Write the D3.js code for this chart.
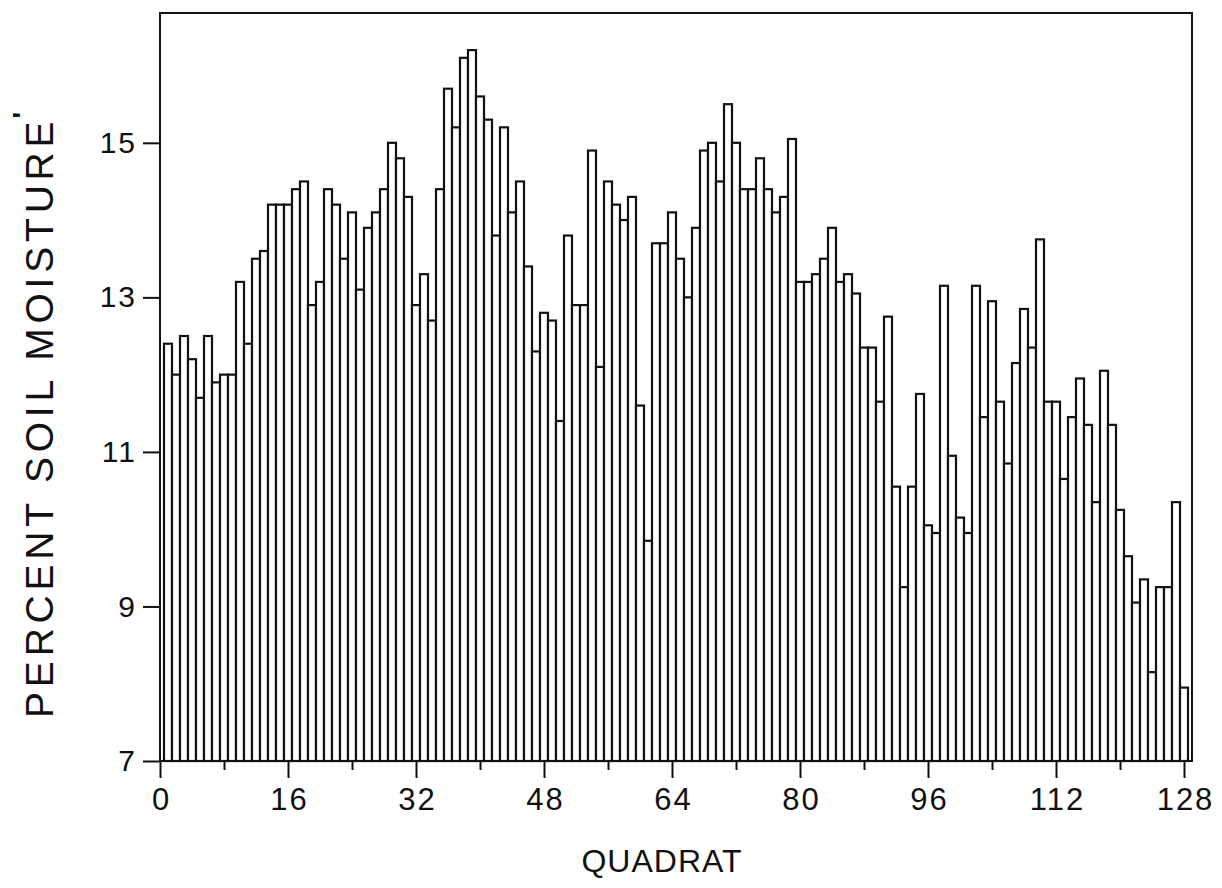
<!DOCTYPE html>
<html>
<head>
<meta charset="utf-8">
<script src="https://cdn.jsdelivr.net/npm/d3@7"></script>
<style>
  html, body { margin: 0; padding: 0; background: #fff; }
  svg { display: block; }
  text { font-family: "Liberation Sans", Arial, sans-serif; fill: #111; }
</style>
</head>
<body>
<svg id="chart" width="1222" height="888"></svg>
<script>
// Quadrat numbers along the transect
const quadrats = d3.range(1, 129);

// Percent soil moisture in each quadrat (1..128)
const moisture = [
  12.4, 12.0, 12.5, 12.2, 11.7, 12.5, 11.9, 12.0, 12.0, 13.2,
  12.4, 13.5, 13.6, 14.2, 14.2, 14.2, 14.4, 14.5, 12.9, 13.2,
  14.4, 14.2, 13.5, 14.1, 13.1, 13.9, 14.1, 14.4, 15.0, 14.8,
  14.3, 12.9, 13.3, 12.7, 14.4, 15.7, 15.2, 16.1, 16.2, 15.6,
  15.3, 13.8, 15.2, 14.1, 14.5, 13.4, 12.3, 12.8, 12.7, 11.4,
  13.8, 12.9, 12.9, 14.9, 12.1, 14.5, 14.2, 14.0, 14.3, 11.6,
  9.85, 13.7, 13.7, 14.1, 13.5, 13.0, 13.9, 14.9, 15.0, 14.5,
  15.5, 15.0, 14.4, 14.4, 14.8, 14.4, 14.1, 14.3, 15.05, 13.2,
  13.2, 13.3, 13.5, 13.9, 13.2, 13.3, 13.05, 12.35, 12.35, 11.65,
  12.75, 10.55, 9.25, 10.55, 11.75, 10.05, 9.95, 13.15, 10.95, 10.15,
  9.95, 13.15, 11.45, 12.95, 11.65, 10.85, 12.15, 12.85, 12.35, 13.75,
  11.65, 11.65, 10.65, 11.45, 11.95, 11.35, 10.35, 12.05, 11.35, 10.25,
  9.65, 9.05, 9.35, 8.15, 9.25, 9.25, 10.35, 7.95
];

// Axis ticks
const xMajorTicks = [0, 16, 32, 48, 64, 80, 96, 112, 128];
const xMinorTicks = [8, 24, 40, 56, 72, 88, 104, 120];
const yTicks = [7, 9, 11, 13, 15];

const xTitle = "QUADRAT";
const yTitle = "PERCENT SOIL MOISTURE";

const svg = d3.select("#chart");
const plot = { left: 160, right: 1192, top: 13, bottom: 761 };
const ink = "#111";

const x = d3.scaleLinear().domain([0, 129]).range([plot.left, plot.right]);
const y = d3.scaleLinear().domain([7, 16.68]).range([plot.bottom, plot.top]);

// Bars: one per quadrat, centred on the quadrat number, one unit wide
svg.append("g")
  .selectAll("rect")
  .data(quadrats)
  .join("rect")
  .attr("x", d => x(d - 0.5))
  .attr("width", d => x(d + 0.5) - x(d - 0.5))
  .attr("y", (d, i) => y(moisture[i]))
  .attr("height", (d, i) => y(7) - y(moisture[i]))
  .attr("fill", "#fff")
  .attr("stroke", ink)
  .attr("stroke-width", 2.2);

// Plot frame
svg.append("rect")
  .attr("x", plot.left).attr("y", plot.top)
  .attr("width", plot.right - plot.left).attr("height", plot.bottom - plot.top)
  .attr("fill", "none").attr("stroke", ink).attr("stroke-width", 2);

// X axis: major labelled ticks and short minor ticks
const xAxis = svg.append("g").attr("transform", `translate(0,${plot.bottom})`)
  .call(d3.axisBottom(x).tickValues(xMajorTicks).tickSize(17).tickPadding(10).tickFormat(d3.format("d")));
xAxis.select(".domain").remove();
xAxis.selectAll("line").attr("stroke", ink).attr("stroke-width", 2);
xAxis.selectAll("text").attr("font-size", 31).attr("letter-spacing", 2).attr("dx", 1).attr("fill", ink)
  .attr("font-family", "Liberation Sans, Arial, sans-serif");

const xMinor = svg.append("g").attr("transform", `translate(0,${plot.bottom})`)
  .call(d3.axisBottom(x).tickValues(xMinorTicks).tickSize(9).tickFormat(""));
xMinor.select(".domain").remove();
xMinor.selectAll("line").attr("stroke", ink).attr("stroke-width", 2);

// Y axis
const yAxis = svg.append("g").attr("transform", `translate(${plot.left},0)`)
  .call(d3.axisLeft(y).tickValues(yTicks).tickSize(17).tickPadding(6).tickFormat(d3.format("d")));
yAxis.select(".domain").remove();
yAxis.selectAll("line").attr("stroke", ink).attr("stroke-width", 2);
yAxis.selectAll("text").attr("font-size", 30).attr("letter-spacing", 2).attr("fill", ink)
  .attr("font-family", "Liberation Sans, Arial, sans-serif");

// Axis titles
svg.append("text")
  .attr("x", 662).attr("y", 872)
  .attr("text-anchor", "middle")
  .attr("font-size", 32)
  .attr("letter-spacing", 1)
  .text(xTitle);

const yt = svg.append("text")
  .attr("transform", `translate(53,718) rotate(-90)`)
  .attr("text-anchor", "start")
  .attr("font-size", 39)
  .attr("letter-spacing", 4.8);
yt.append("tspan").text(yTitle);
yt.append("tspan").attr("dx", -2).attr("dy", -21).attr("font-weight", 700).attr("font-size", 28).text("'");
</script>
</body>
</html>
